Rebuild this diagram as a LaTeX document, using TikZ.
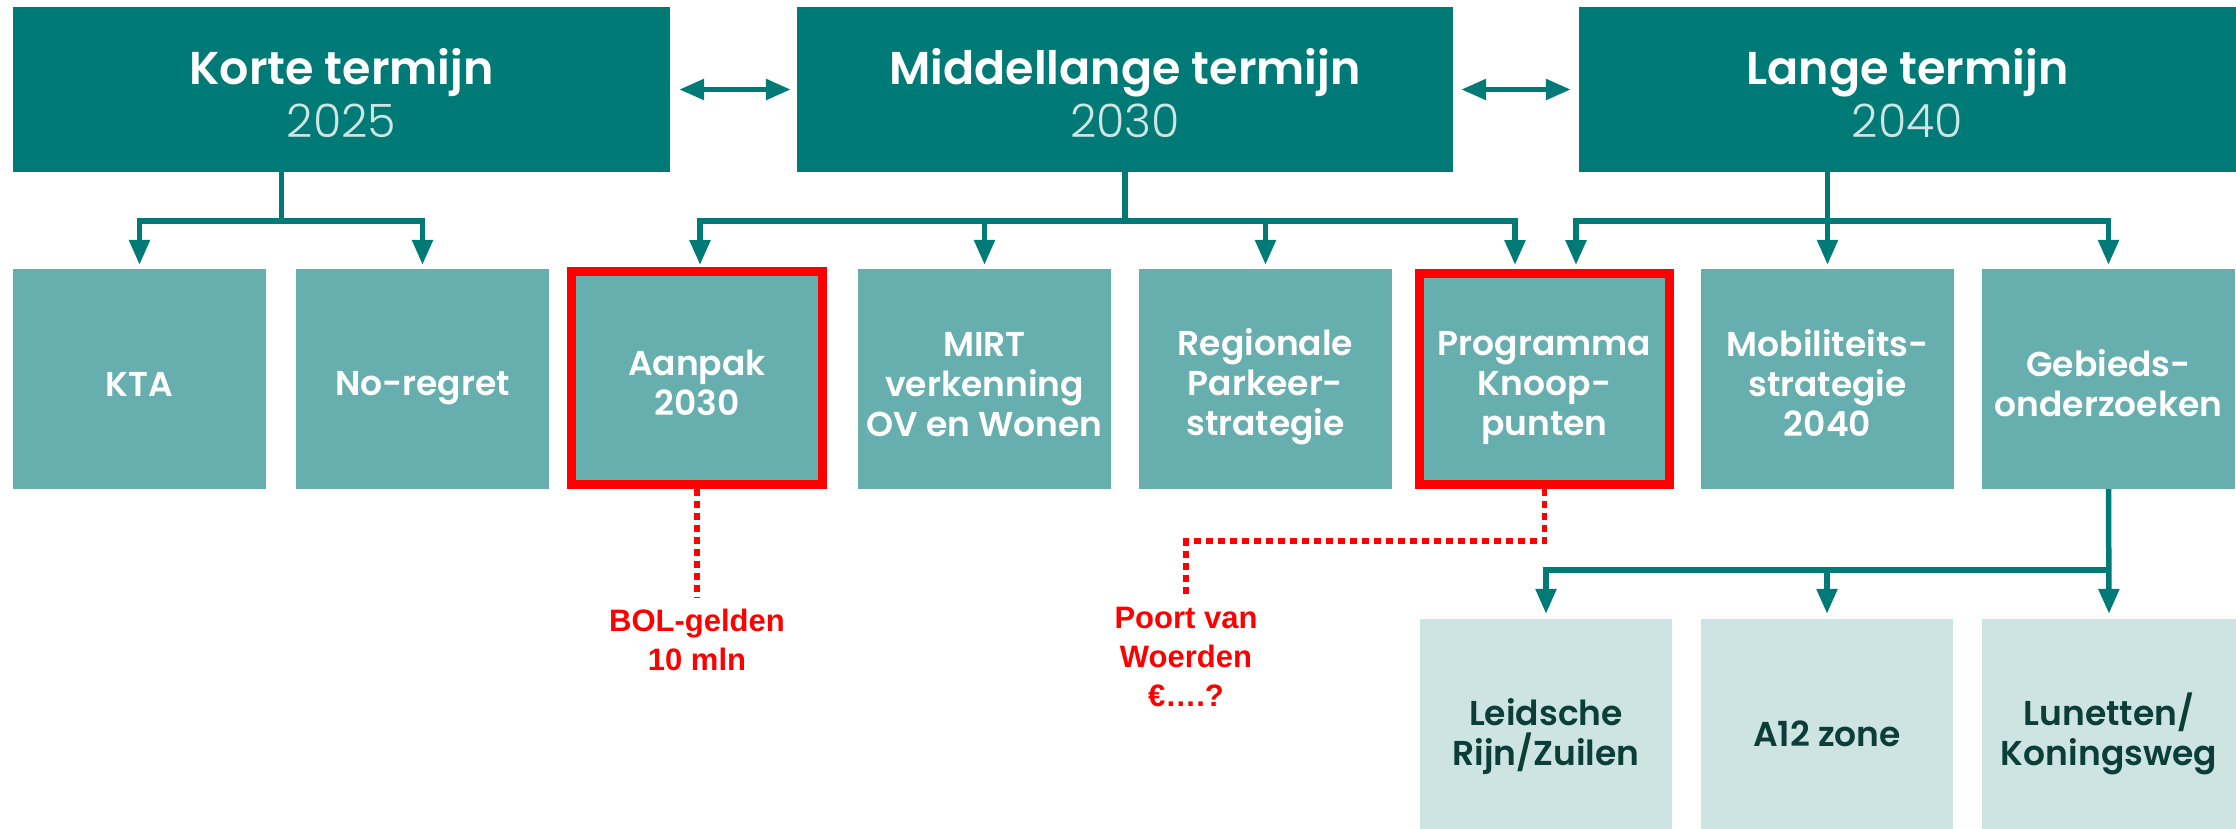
\documentclass[tikz,border=0pt]{standalone}
\usepackage{fontspec}
\usetikzlibrary{arrows.meta}
\setmainfont{Poppins}
\IfFontExistsTF{Poppins SemiBold}
  {\newfontfamily\headfont{Poppins SemiBold}}
  {\newfontfamily\headfont{Poppins}[FakeBold=1.5]}
\IfFontExistsTF{Poppins Light}
  {\newfontfamily\yearfont{Poppins Light}}
  {\newfontfamily\yearfont{Poppins}}
\newfontfamily\notefont{Liberation Sans}

\definecolor{tealdark}{RGB}{0,122,118}
\definecolor{tealmid}{RGB}{102,175,174}
\definecolor{teallight}{RGB}{205,228,227}
\definecolor{yearcol}{RGB}{205,230,228}
\definecolor{deeptext}{RGB}{12,62,57}
\definecolor{notered}{RGB}{255,0,0}

% struts that fix the vertical placement of box texts
\newcommand\hdstrut{\rule{0pt}{44pt}}
\newcommand\bxtop{\rule{0pt}{42pt}}
\newcommand\bxbot{\rule[-8pt]{0pt}{8pt}}

\begin{document}
\begin{tikzpicture}[x=1pt,y=-1pt,
  conn/.style={draw=tealdark, line width=5.5pt},
  arr/.style={conn, -{Triangle[length=25pt,width=20pt]}, shorten >=4pt},
  twoway/.style={conn, {Triangle[length=25pt,width=20pt]}-{Triangle[length=25pt,width=20pt]}},
  topbox/.style={fill=tealdark, minimum width=657pt, minimum height=165pt,
    inner sep=0pt, text=white, align=center, font=\fontsize{46}{53}\selectfont},
  midbox/.style={fill=tealmid, minimum width=253pt, minimum height=220pt,
    inner sep=0pt, text=white, align=center, font=\headfont\fontsize{34.5}{40}\selectfont},
  redbox/.style={midbox, draw=notered, line width=9pt},
  lowbox/.style={midbox, fill=teallight, text=deeptext},
  note/.style={text=notered, inner sep=0pt, anchor=north, align=center,
    font=\notefont\bfseries\fontsize{31}{39}\selectfont},
  dots/.style={draw=notered, line width=5.5pt, dash pattern=on 7pt off 5pt}
]
\useasboundingbox (0,0) rectangle (2236,828);
\clip (0,0) rectangle (2236,828);

% horizons
\node[topbox] (korte) at (341.5,89.5)
  {\hdstrut\headfont Korte termijn\\{\yearfont\textcolor{yearcol}{2025}}};
\node[topbox, minimum width=656pt] (middel) at (1125,89.5)
  {\hdstrut\headfont Middellange termijn\\{\yearfont\textcolor{yearcol}{2030}}};
\node[topbox] (lange) at (1907.5,89.5)
  {\hdstrut\headfont Lange termijn\\{\yearfont\textcolor{yearcol}{2040}}};

\draw[twoway, shorten <=9pt, shorten >=6pt] (korte.east) -- (middel.west);
\draw[twoway, shorten <=8pt, shorten >=8pt] (middel.east) -- (lange.west);

% projects
\node[midbox] (kta) at (139.5,379) {\bxtop KTA\bxbot};
\node[midbox] (noreg) at (422.5,379) {\bxtop No-regret\bxbot};
\node[redbox, minimum width=251pt, minimum height=213pt] (aanpak) at (697,378)
  {\bxtop Aanpak\\2030\bxbot};
\node[midbox] (mirt) at (984.5,379) {\bxtop MIRT\\verkenning\\OV en Wonen\bxbot};
\node[midbox] (regio) at (1265.5,379) {\bxtop Regionale\\Parkeer-\\strategie\bxbot};
\node[redbox, minimum width=250pt, minimum height=211pt] (prog) at (1544.5,379)
  {\bxtop Programma\\Knoop-\\punten\bxbot};
\node[midbox] (mob) at (1827.5,379) {\bxtop Mobiliteits-\\strategie\\2040\bxbot};
\node[midbox] (geb) at (2108.5,379) {\bxtop Gebieds-\\onderzoeken\bxbot};

% area studies
\node[lowbox, minimum width=252pt] (leid) at (1546,729) {\bxtop Leidsche\\Rijn/Zuilen\bxbot};
\node[lowbox, minimum width=252pt] (a12) at (1827,729) {\bxtop A12 zone\bxbot};
\node[lowbox, minimum width=254pt] (lun) at (2109,729) {\bxtop Lunetten/\\Koningsweg\bxbot};

% tree connectors
\coordinate (kj) at (281.5,221);
\coordinate (mj) at (1125,221);
\coordinate (lj) at (1827.5,221);
\coordinate (gj) at (2108.5,570);

\draw[conn] (korte.south -| kj) -- (kj);
\draw[arr] (kj) -| (kta.north);
\draw[arr] (kj) -| (noreg.north);

\draw[conn] (middel.south) -- (mj);
\draw[arr, shorten >=2pt] (mj) -| ([xshift=3pt]aanpak.north);
\draw[arr] (mj) -| (mirt.north);
\draw[arr] (mj) -| (regio.north);
\draw[arr] (mj) -| ([xshift=-29.5pt]prog.north);

\draw[arr] (lange.south -| mob.north) -- (mob.north);
\draw[arr] (lj) -| ([xshift=31.5pt]prog.north);
\draw[arr] (lj) -| (geb.north);

\draw[arr, shorten >=5pt] (geb.south) -- (lun.north);
\draw[arr, shorten >=5pt] (gj) -| (leid.north);
\draw[arr, shorten >=5pt] (gj) -| (a12.north);

% budget notes
\node[note] (bol) at (697,609) {BOL-gelden\\10 mln};
\node[note] (poort) at (1186,607) {Poort van\\Woerden\\€….?};

\draw[dots, shorten >=11pt] (aanpak.south) -- (bol.north);
\draw[dots, shorten >=10pt] (prog.south) -- ++(0,52) -| (poort.north);
\end{tikzpicture}
\end{document}
